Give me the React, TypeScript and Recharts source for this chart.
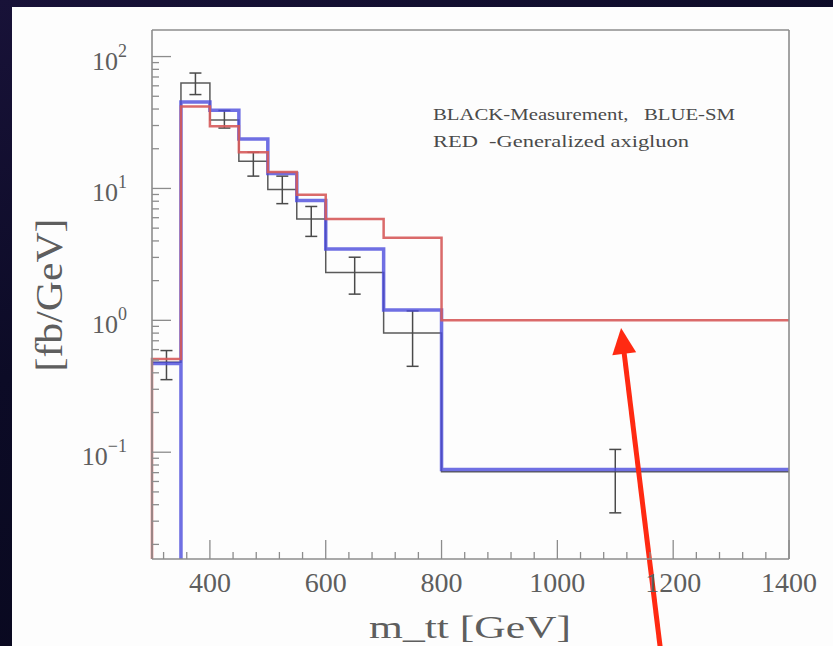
import React from 'react';
import {
  ComposedChart,
  Line,
  Scatter,
  ErrorBar,
  XAxis,
  YAxis,
  ReferenceLine,
  Customized,
} from 'recharts';

// ---------- data ----------
const binEdges = [300, 350, 400, 450, 500, 550, 600, 700, 800, 1400];
const measuredBins = [0.48, 63, 33, 16.1, 9.8, 5.87, 2.31, 0.8, 0.071];
const smBins = [0.47, 45.2, 39.1, 23.7, 13.0, 8.1, 3.48, 1.2, 0.074];
const axigluonBins = [0.51, 41.8, 29.6, 18.8, 13.3, 8.97, 5.87, 4.22, 1.0];

const errorX = [325, 375, 425, 475, 525, 575, 650, 750, 1100];
const errorCenter = [0.48, 63, 33, 16.1, 9.8, 5.87, 2.31, 0.8, 0.06];
const errorLow = [0.355, 51.5, 28.7, 12.4, 7.67, 4.33, 1.58, 0.448, 0.0347];
const errorHigh = [0.59, 75, 39, 18.8, 12.4, 7.3, 3.01, 1.18, 0.105];

const xMajorTicks = [400, 600, 800, 1000, 1200, 1400];
const xAllTicks = [
  320, 360, 400, 440, 480, 520, 560, 600, 640, 680, 720, 760, 800, 840, 880, 920,
  960, 1000, 1040, 1080, 1120, 1160, 1200, 1240, 1280, 1320, 1360, 1400,
];
const yMajorTicks = [0.1, 1, 10, 100];
const yExponents = ['\u22121', '0', '1', '2'];
const yAllTicks = [
  0.02, 0.03, 0.04, 0.05, 0.06, 0.07, 0.08, 0.09, 0.1, 0.2, 0.3, 0.4, 0.5, 0.6,
  0.7, 0.8, 0.9, 1, 2, 3, 4, 5, 6, 7, 8, 9, 10, 20, 30, 40, 50, 60, 70, 80, 90, 100,
];
const xDomain = [300, 1400];
const yDomain = [0.0155, 159];
const yFloor = 0.0155;

const legendLines = ['BLACK-Measurement,   BLUE-SM', 'RED  -Generalized axigluon'];
const xTitle = 'm_tt [GeV]';
const yTitle = '[fb/GeV]';
const arrowSegment = [
  { x: 1178, y: 0.0032 },
  { x: 1110, y: 0.875 },
];

// ---------- derived step tables ----------
const stepTable = (vals: number[]) => {
  const pts = vals.map((v, i) => ({ x: binEdges[i], y: v }));
  pts.push({ x: binEdges[binEdges.length - 1], y: vals[vals.length - 1] });
  return pts;
};
const measuredData = stepTable(measuredBins);
const smSteps = stepTable(smBins);
const smData = [smSteps[0], { x: binEdges[1], y: yFloor }, ...smSteps.slice(1)];
const axigluonData = [{ x: binEdges[0], y: yFloor }, ...stepTable(axigluonBins)];
const errorData = errorX.map((x, i) => ({
  x,
  y: errorCenter[i],
  err: [errorCenter[i] - errorLow[i], errorHigh[i] - errorCenter[i]],
}));

// ---------- styles ----------
const FRAME = '#8c8c8c';
const LABEL = '#5e5e5e';
const SERIF = '"Liberation Serif", "Times New Roman", serif';

const BottomTick = (props: any) => {
  const { x, y, payload } = props;
  const major = xMajorTicks.includes(payload.value);
  return (
    <g>
      <line x1={x} x2={x} y1={y} y2={y - (major ? 19 : 7)} stroke={FRAME} strokeWidth={1.3} />
      {major && (
        <text x={x} y={y + 33} textAnchor="middle" fontFamily={SERIF} fontSize={28} fill={LABEL}>
          {payload.value}
        </text>
      )}
    </g>
  );
};

const TopTick = (props: any) => {
  const { x, y, payload } = props;
  const major = xMajorTicks.includes(payload.value);
  return <line x1={x} x2={x} y1={y} y2={y + (major ? 19 : 7)} stroke={FRAME} strokeWidth={1.3} />;
};

const LeftTick = (props: any) => {
  const { x, y, payload } = props;
  const idx = yMajorTicks.indexOf(payload.value);
  const major = idx >= 0;
  return (
    <g>
      <line x1={x} x2={x + (major ? 19 : 7)} y1={y} y2={y} stroke={FRAME} strokeWidth={1.3} />
      {major && (
        <text x={x - 25} y={y + 13} textAnchor="end" fontFamily={SERIF} fontSize={26} fill={LABEL}>
          10
          <tspan dy={-13} fontSize={18}>
            {yExponents[idx]}
          </tspan>
        </text>
      )}
    </g>
  );
};

const RightTick = (props: any) => {
  const { x, y, payload } = props;
  const major = yMajorTicks.includes(payload.value);
  return <line x1={x} x2={x - (major ? 20 : 7)} y1={y} y2={y} stroke={FRAME} strokeWidth={1.3} />;
};

const ArrowShape = (props: any) => {
  const { x1, y1, x2, y2 } = props;
  const dx = x2 - x1;
  const dy = y2 - y1;
  const len = Math.sqrt(dx * dx + dy * dy) || 1;
  const ux = dx / len;
  const uy = dy / len;
  const headLen = 26;
  const halfW = 12;
  const bx = x2 - ux * headLen;
  const by = y2 - uy * headLen;
  const px = -uy;
  const py = ux;
  return (
    <g>
      <line x1={x1} y1={y1} x2={bx + ux * 2} y2={by + uy * 2} stroke="#ff2a12" strokeWidth={5} />
      <polygon
        points={`${x2},${y2} ${bx + px * halfW},${by + py * halfW} ${bx - px * halfW},${by - py * halfW}`}
        fill="#ff2a12"
      />
    </g>
  );
};

const LEGEND_FONT = '"Liberation Serif", serif';

const Annotations = () => (
  <g>
    <text x={433} y={120} fontFamily={LEGEND_FONT} fontSize={16} fill="#4a4a4a"
      textLength={302} lengthAdjust="spacingAndGlyphs" xmlSpace="preserve" style={{ whiteSpace: 'pre' }}>
      {legendLines[0]}
    </text>
    <text x={433} y={147} fontFamily={LEGEND_FONT} fontSize={16} fill="#4a4a4a"
      textLength={256} lengthAdjust="spacingAndGlyphs" xmlSpace="preserve" style={{ whiteSpace: 'pre' }}>
      {legendLines[1]}
    </text>
    <text x={470} y={638} textAnchor="middle" fontFamily={SERIF} fontSize={31} fill={LABEL}
      textLength={202} lengthAdjust="spacingAndGlyphs">
      {xTitle}
    </text>
    <text transform="rotate(-90)" x={-295} y={62} textAnchor="middle" fontFamily={SERIF} fontSize={37}
      fill={LABEL} textLength={153} lengthAdjust="spacingAndGlyphs">
      {yTitle}
    </text>
  </g>
);

const axisCommon = {
  interval: 0 as const,
  tickSize: 0,
  tickMargin: 0,
  tickLine: false,
  axisLine: { stroke: FRAME, strokeWidth: 1.6 },
};

export default function App() {
  return (
    <div
      style={{
        position: 'absolute',
        left: 0,
        top: 0,
        width: 833,
        height: 646,
        overflow: 'hidden',
        background: 'linear-gradient(160deg, #181238 0%, #0c0b26 40%, #07071a 100%)',
      }}
    >
      <div style={{ position: 'absolute', left: 12, top: 7, right: 0, bottom: 0, background: '#fdfdfd' }} />
      <div style={{ position: 'absolute', left: 0, top: 0 }}>
        <ComposedChart width={833} height={646} margin={{ top: 29, right: 43, bottom: 86, left: 151 }}>
          <XAxis
            {...axisCommon}
            xAxisId="b"
            type="number"
            dataKey="x"
            domain={xDomain}
            ticks={xAllTicks}
            height={1}
            tick={BottomTick}
          />
          <XAxis
            {...axisCommon}
            xAxisId="t"
            orientation="top"
            type="number"
            dataKey="x"
            domain={xDomain}
            ticks={xAllTicks}
            height={1}
            tick={TopTick}
          />
          <YAxis
            {...axisCommon}
            yAxisId="l"
            type="number"
            scale="log"
            domain={yDomain}
            ticks={yAllTicks}
            width={1}
            tick={LeftTick}
          />
          <YAxis
            {...axisCommon}
            yAxisId="r"
            orientation="right"
            type="number"
            scale="log"
            domain={yDomain}
            ticks={yAllTicks}
            width={1}
            tick={RightTick}
          />
          <Line
            xAxisId="b"
            yAxisId="l"
            data={measuredData}
            dataKey="y"
            type="stepAfter"
            stroke="#5a5a5a"
            strokeWidth={1.5}
            dot={false}
            activeDot={false}
            isAnimationActive={false}
          />
          <Scatter
            xAxisId="b"
            yAxisId="l"
            data={errorData}
            dataKey="y"
            shape={() => <g />}
            isAnimationActive={false}
          >
            <ErrorBar dataKey="err" direction="y" width={6} stroke="#4a4a4a" strokeWidth={1.5} isAnimationActive={false} />
          </Scatter>
          <Line
            xAxisId="b"
            yAxisId="l"
            data={smData}
            dataKey="y"
            type="stepAfter"
            stroke="#4b4bdc"
            strokeOpacity={0.8}
            strokeWidth={3.5}
            dot={false}
            activeDot={false}
            isAnimationActive={false}
          />
          <Line
            xAxisId="b"
            yAxisId="l"
            data={axigluonData}
            dataKey="y"
            type="stepAfter"
            stroke="#d65a5a"
            strokeOpacity={0.9}
            strokeWidth={2.5}
            dot={false}
            activeDot={false}
            isAnimationActive={false}
          />
          <Customized component={<Annotations />} />
          <ReferenceLine
            xAxisId="b"
            yAxisId="l"
            segment={arrowSegment}
            ifOverflow="visible"
            shape={ArrowShape}
          />
        </ComposedChart>
      </div>
    </div>
  );
}
